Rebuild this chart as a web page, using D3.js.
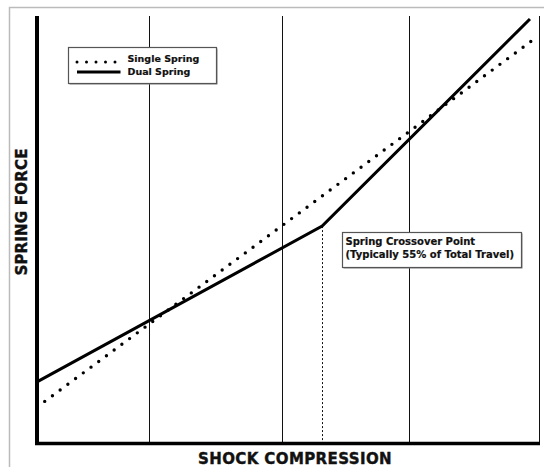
<!DOCTYPE html>
<head><style>
body { margin: 0; background: #fff; }
svg { display: block; background-color: #fff; }
text { font-family: "DejaVu Sans", sans-serif; font-weight: bold; fill: #111; }
</style></head>
<body>
    <div class="container"></div>
    <script src="https://d3js.org/d3.v7.min.js"></script>
    <script>
        // compression (% of plot width) vs force (% of plot height)
        var single_x = [0, 99.6];
        var single_y = [8.4, 95.1];
        var dual_x = [0, 56.8, 98.2];
        var dual_y = [14.3, 50.8, 99.3];
        var grid_x = [22.3, 48.8, 74.1, 100];
        var crossover_x = 56.8;
        var legend_labels = ['Single Spring', 'Dual Spring'];
        var note_lines = ['Spring Crossover Point', '(Typically 55% of Total Travel)'];

        var svg = d3.select('.container')
                    .append('svg')
                    .attr('width', 544)
                    .attr('height', 467);

        // outer frame
        svg.append('rect')
           .attr('x', 9.5).attr('y', 7.5)
           .attr('width', 560).attr('height', 500)
           .attr('fill', 'none')
           .attr('stroke', '#bbb')
           .attr('stroke-width', 1.5);

        var xscale = d3.scaleLinear().domain([0, 100]).range([37, 539]);
        var yscale = d3.scaleLinear().domain([0, 100]).range([443, 16]);

        // vertical grid
        svg.append('g').selectAll('line')
           .data(grid_x)
           .enter().append('line')
           .attr('x1', function(d) { return Math.round(xscale(d)) + 0.5; })
           .attr('x2', function(d) { return Math.round(xscale(d)) + 0.5; })
           .attr('y1', yscale(100))
           .attr('y2', yscale(0))
           .attr('stroke', '#111')
           .attr('stroke-width', 1);

        // crossover marker
        var dual_pts = d3.zip(dual_x, dual_y);
        svg.append('line')
           .attr('x1', Math.round(xscale(crossover_x)) + 0.5)
           .attr('x2', Math.round(xscale(crossover_x)) + 0.5)
           .attr('y1', yscale(dual_y[1]))
           .attr('y2', yscale(0))
           .attr('stroke', '#111')
           .attr('stroke-width', 1)
           .attr('stroke-dasharray', '2,2');

        var line = d3.line()
                     .x(function(d) { return xscale(d[0]); })
                     .y(function(d) { return yscale(d[1]); });

        svg.append('path')
           .datum(d3.zip(single_x, single_y))
           .attr('d', line)
           .attr('fill', 'none')
           .attr('stroke', '#000')
           .attr('stroke-width', 3.4)
           .attr('stroke-linecap', 'round')
           .attr('stroke-dasharray', '0,9.6');

        svg.append('path')
           .datum(dual_pts)
           .attr('d', line)
           .attr('fill', 'none')
           .attr('stroke', '#000')
           .attr('stroke-width', 3);

        // axes (no ticks, just the heavy rules)
        var yaxis = svg.append('g')
                       .attr('transform', 'translate(37,0)')
                       .call(d3.axisLeft(yscale).ticks(0).tickSizeOuter(0));
        var xaxis = svg.append('g')
                       .attr('transform', 'translate(0,443.5)')
                       .call(d3.axisBottom(xscale).ticks(0).tickSizeOuter(0));
        yaxis.select('.domain').attr('stroke', '#000').attr('stroke-width', 4)
             .attr('d', 'M0,' + (yscale(100)) + 'V' + (yscale(0) + 2));
        xaxis.select('.domain').attr('stroke', '#000').attr('stroke-width', 3.5)
             .attr('d', 'M' + (xscale(0) - 2) + ',0H' + (xscale(100) + 1));

        // axis titles
        svg.append('text')
           .attr('x', 295).attr('y', 463.5)
           .attr('text-anchor', 'middle')
           .style('font-size', '15px')
           .style('letter-spacing', '0.4px')
           .style('stroke', '#111')
           .style('stroke-width', 0.4)
           .text('SHOCK COMPRESSION');
        svg.append('text')
           .attr('transform', 'translate(26.5,212) rotate(-90)')
           .attr('text-anchor', 'middle')
           .style('font-size', '15px')
           .style('letter-spacing', '0.2px')
           .style('stroke', '#111')
           .style('stroke-width', 0.4)
           .text('SPRING FORCE');

        // legend
        var legend = svg.append('g').attr('transform', 'translate(68.5,47.5)');
        legend.append('rect')
              .attr('x', 1).attr('y', 1)
              .attr('width', 148).attr('height', 36)
              .attr('fill', '#888');
        legend.append('rect')
              .attr('width', 148).attr('height', 36)
              .attr('fill', '#fff')
              .attr('stroke', '#555')
              .attr('stroke-width', 1.2);
        legend.append('line')
              .attr('x1', 8.5).attr('x2', 47)
              .attr('y1', 14.5).attr('y2', 14.5)
              .attr('stroke', '#000')
              .attr('stroke-width', 3)
              .attr('stroke-linecap', 'round')
              .attr('stroke-dasharray', '0,9.5');
        legend.append('line')
              .attr('x1', 8.5).attr('x2', 52)
              .attr('y1', 24.5).attr('y2', 24.5)
              .attr('stroke', '#000')
              .attr('stroke-width', 3);
        legend.selectAll('text.lab')
              .data(legend_labels)
              .enter().append('text')
              .attr('class', 'lab')
              .attr('x', 59)
              .attr('y', function(d, i) { return 14.5 + i * 13; })
              .style('font-size', '9.5px')
              .style('stroke', '#111')
              .style('stroke-width', 0.2)
              .text(function(d) { return d; });

        // crossover note
        var note = svg.append('g').attr('transform', 'translate(342.5,232.5)');
        note.append('rect')
            .attr('x', 1).attr('y', 1)
            .attr('width', 179).attr('height', 35)
            .attr('fill', '#888');
        note.append('rect')
            .attr('width', 179).attr('height', 35)
            .attr('fill', '#fff')
            .attr('stroke', '#555')
            .attr('stroke-width', 1.2);
        note.selectAll('text')
            .data(note_lines)
            .enter().append('text')
            .attr('x', 3)
            .attr('y', function(d, i) { return 12 + i * 13; })
            .style('font-size', '10px')
            .style('stroke', '#111')
            .style('stroke-width', 0.2)
            .text(function(d) { return d; });
    </script>
</body>
